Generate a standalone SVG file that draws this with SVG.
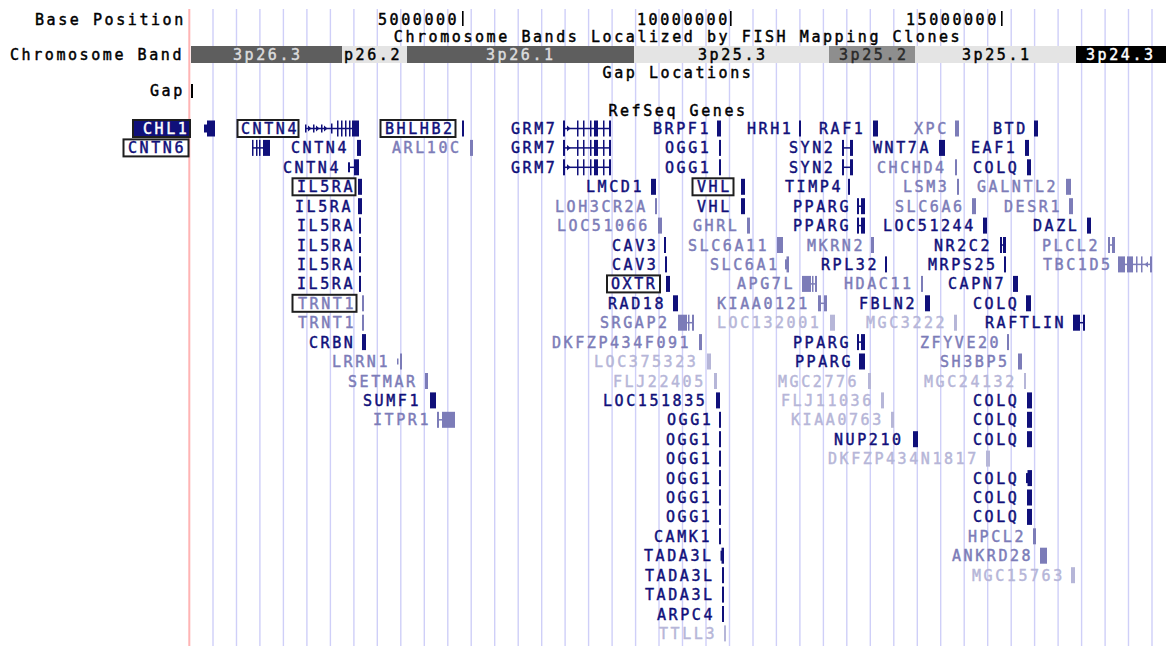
<svg xmlns="http://www.w3.org/2000/svg" width="1166" height="646" viewBox="0 0 1166 646">
<style>
.t{font-family:"DejaVu Sans Mono","Liberation Mono",monospace;font-size:15px;letter-spacing:2.57px;stroke-width:0.45px}
.k{fill:#000}
.k .t,.t.k{stroke:#000}
.n{fill:#10107a}
.n .t{stroke:#10107a}
.l{fill:#7c7cb8}
.l .t{stroke:#7c7cb8}
.v{fill:#b6b6d8}
.v .t{stroke:#b6b6d8}
.bx{fill:#fff;stroke:#1e1e1e;stroke-width:2}
.grid{stroke:#cfcff8;stroke-width:1.4;fill:none}
.mid{text-anchor:middle}
</style>
<rect width="1166" height="646" fill="#fff"/>
<g id="guides">
<path class="grid" d="M213 9V646M236.5 9V646M259.9 9V646M283.4 9V646M306.9 9V646M330.4 9V646M353.9 9V646M377.3 9V646M400.8 9V646M424.3 9V646M447.8 9V646M471.2 9V646M494.7 9V646M518.2 9V646M541.7 9V646M565.1 9V646M588.6 9V646M612.1 9V646M635.6 9V646M659 9V646M682.5 9V646M706 9V646M729.5 9V646M753 9V646M776.4 9V646M799.9 9V646M823.4 9V646M846.8 9V646M870.3 9V646M893.8 9V646M917.3 9V646M940.7 9V646M964.2 9V646M987.7 9V646M1011.2 9V646M1034.6 9V646M1058.1 9V646M1081.6 9V646M1105.1 9V646M1128.5 9V646M1152 9V646"/>
<rect x="188.3" y="9" width="2" height="637" fill="#ffb4b4"/>
</g>
<g id="ruler" class="k">
<text class="t" x="35" y="25">Base Position</text>
<text class="t" x="378" y="25">5000000</text><rect x="462" y="11" width="1.6" height="15"/>
<text class="t" x="637" y="25">10000000</text><rect x="730" y="11" width="1.6" height="15"/>
<text class="t" x="906" y="25">15000000</text><rect x="1001" y="11" width="1.6" height="15"/>
</g>
<g id="bands">
<text class="t k mid" x="678" y="42">Chromosome Bands Localized by FISH Mapping Clones</text>
<text class="t k" x="10" y="60">Chromosome Band</text>
<rect x="191" y="46" width="151" height="17" fill="#5e5e5e"/><text class="t" x="233" y="60" fill="#dcdcdc" stroke="#dcdcdc">3p26.3</text>
<rect x="342" y="46" width="65" height="17" fill="#e4e4e4"/><text class="t" x="344" y="60" fill="#000" stroke="#000">p26.2</text>
<rect x="407" y="46" width="227" height="17" fill="#5e5e5e"/><text class="t" x="486" y="60" fill="#dcdcdc" stroke="#dcdcdc">3p26.1</text>
<rect x="634" y="46" width="195" height="17" fill="#e4e4e4"/><text class="t" x="698" y="60" fill="#000" stroke="#000">3p25.3</text>
<rect x="829" y="46" width="86" height="17" fill="#8e8e8e"/><text class="t" x="839" y="60" fill="#2a2a2a" stroke="#2a2a2a">3p25.2</text>
<rect x="915" y="46" width="161" height="17" fill="#e4e4e4"/><text class="t" x="962" y="60" fill="#000" stroke="#000">3p25.1</text>
<rect x="1076" y="46" width="90" height="17" fill="#000"/><text class="t" x="1086" y="60" fill="#fff" stroke="#fff">3p24.3</text>
</g>
<g id="gaps" class="k">
<text class="t mid" x="678" y="78">Gap Locations</text>
<text class="t" x="150" y="96">Gap</text>
<rect x="191" y="84" width="2" height="14"/>
</g>
<g id="refseq-title"><text class="t k mid" x="678" y="116">RefSeq Genes</text></g>

<g id="row0" transform="translate(0,128.5)">
<g id="chl1" class="n"><rect x="133" y="-8.5" width="57" height="17" fill="#10107a" stroke="#1e1e1e" stroke-width="2"/><text class="t" x="143" y="5.5" fill="#fff" style="stroke:#fff">CHL1</text><rect x="204" y="-4" width="3" height="8"/><rect x="207" y="-8" width="8" height="16"/></g>
<g id="cntn4-1" class="n"><rect class="bx" x="237.5" y="-8.5" width="61" height="17"/><text class="t" x="241" y="5.5">CNTN4</text><rect x="305" y="-0.75" width="53" height="1.5"/><rect x="305" y="-4" width="1.5" height="8"/><rect x="313" y="-4" width="1.5" height="8"/><rect x="321" y="-4" width="1.5" height="8"/><path d="M308-3l3.5 3-3.5 3zM316-3l3.5 3-3.5 3zM324-3l3.5 3-3.5 3z"/><rect x="331" y="-5" width="1.5" height="10"/><rect x="337" y="-8" width="1.5" height="16"/><rect x="341" y="-8" width="1.5" height="16"/><rect x="345" y="-8" width="1.5" height="16"/><rect x="349" y="-8" width="1.5" height="16"/><rect x="352" y="-8" width="7" height="16"/></g>
<g id="bhlhb2" class="n"><rect class="bx" x="380.5" y="-8.5" width="75" height="17"/><text class="t" x="385" y="5.5">BHLHB2</text><rect x="462" y="-8" width="2" height="16"/></g>
<g id="grm7-1" class="n"><text class="t" x="511" y="5.5">GRM7</text><rect x="563" y="-0.75" width="48" height="1.5"/><rect x="563" y="-8" width="2" height="16"/><path d="M567-3l3.5 3-3.5 3z"/><rect x="577" y="-8" width="1.5" height="16"/><rect x="583" y="-8" width="1.5" height="16"/><rect x="590" y="-8" width="1.5" height="16"/><rect x="594" y="-8" width="4" height="16"/><rect x="603" y="-8" width="1.5" height="16"/><rect x="609" y="-8" width="2" height="16"/></g>
<g id="brpf1" class="n"><text class="t" x="653" y="5.5">BRPF1</text><rect x="717" y="-8" width="4" height="16"/></g>
<g id="hrh1" class="n"><text class="t" x="747" y="5.5">HRH1</text><rect x="799" y="-8" width="2" height="16"/></g>
<g id="raf1" class="n"><text class="t" x="819" y="5.5">RAF1</text><rect x="873" y="-8" width="5" height="16"/></g>
<g id="xpc" class="l"><text class="t" x="914" y="5.5">XPC</text><rect x="955" y="-8" width="4" height="16"/></g>
<g id="btd" class="n"><text class="t" x="993" y="5.5">BTD</text><rect x="1034" y="-8" width="4" height="16"/></g>
</g>

<g id="row1" transform="translate(0,147.9)">
<g id="cntn6" class="n"><rect class="bx" x="123.5" y="-8.5" width="65" height="17"/><text class="t" x="128" y="5.5">CNTN6</text><rect x="252" y="-0.75" width="18" height="1.5"/><rect x="252" y="-8" width="1.5" height="16"/><rect x="256" y="-8" width="1.5" height="16"/><rect x="259" y="-8" width="1.5" height="16"/><rect x="263" y="-8" width="7" height="16"/></g>
<g id="cntn4-2" class="n"><text class="t" x="291" y="5.5">CNTN4</text><rect x="357" y="-8" width="4" height="16"/></g>
<g id="arl10c" class="l"><text class="t" x="392" y="5.5">ARL10C</text><rect x="470" y="-8" width="3" height="16"/></g>
<g id="grm7-2" class="n"><text class="t" x="511" y="5.5">GRM7</text><rect x="563" y="-0.75" width="48" height="1.5"/><rect x="563" y="-8" width="2" height="16"/><path d="M567-3l3.5 3-3.5 3z"/><rect x="577" y="-8" width="1.5" height="16"/><rect x="583" y="-8" width="1.5" height="16"/><rect x="590" y="-8" width="1.5" height="16"/><rect x="594" y="-8" width="4" height="16"/><rect x="603" y="-8" width="1.5" height="16"/><rect x="609" y="-8" width="2" height="16"/></g>
<g id="ogg1-1" class="n"><text class="t" x="665" y="5.5">OGG1</text><rect x="719" y="-8" width="2" height="16"/></g>
<g id="syn2-1" class="n"><text class="t" x="789" y="5.5">SYN2</text><rect x="842" y="-8" width="2" height="16"/><rect x="842" y="-0.75" width="10" height="1.5"/><rect x="850" y="-8" width="3" height="16"/></g>
<g id="wnt7a" class="n"><text class="t" x="873" y="5.5">WNT7A</text><rect x="939" y="-8" width="6" height="16"/></g>
<g id="eaf1" class="n"><text class="t" x="971" y="5.5">EAF1</text><rect x="1025" y="-8" width="4" height="16"/></g>
</g>

<g id="row2" transform="translate(0,167.3)">
<g id="cntn4-3" class="n"><text class="t" x="283" y="5.5">CNTN4</text><rect x="348" y="-5" width="2" height="10"/><rect x="348" y="-0.75" width="10" height="1.5"/><rect x="354" y="-8" width="5" height="16"/></g>
<g id="grm7-3" class="n"><text class="t" x="511" y="5.5">GRM7</text><rect x="563" y="-0.75" width="48" height="1.5"/><rect x="563" y="-8" width="2" height="16"/><path d="M567-3l3.5 3-3.5 3z"/><rect x="577" y="-8" width="1.5" height="16"/><rect x="583" y="-8" width="1.5" height="16"/><rect x="590" y="-8" width="1.5" height="16"/><rect x="594" y="-8" width="4" height="16"/><rect x="603" y="-8" width="1.5" height="16"/><rect x="609" y="-8" width="2" height="16"/></g>
<g id="ogg1-2" class="n"><text class="t" x="665" y="5.5">OGG1</text><rect x="719" y="-8" width="2" height="16"/></g>
<g id="syn2-2" class="n"><text class="t" x="789" y="5.5">SYN2</text><rect x="842" y="-8" width="2" height="16"/><rect x="842" y="-0.75" width="10" height="1.5"/><rect x="850" y="-8" width="3" height="16"/></g>
<g id="chchd4" class="l"><text class="t" x="877" y="5.5">CHCHD4</text><rect x="955" y="-8" width="2" height="16"/></g>
<g id="colq-1" class="n"><text class="t" x="973" y="5.5">COLQ</text><rect x="1027" y="-8" width="4" height="16"/></g>
</g>

<g id="row3" transform="translate(0,186.8)">
<g id="il5ra-1" class="n"><rect class="bx" x="292.5" y="-8.5" width="63" height="17"/><text class="t" x="297" y="5.5">IL5RA</text><rect x="358" y="-8" width="4" height="16"/></g>
<g id="lmcd1" class="n"><text class="t" x="586" y="5.5">LMCD1</text><rect x="651" y="-8" width="5" height="16"/></g>
<g id="vhl-1" class="n"><rect class="bx" x="692.5" y="-8.5" width="41" height="17"/><text class="t" x="697" y="5.5">VHL</text><rect x="741" y="-8" width="4" height="16"/></g>
<g id="timp4" class="n"><text class="t" x="785" y="5.5">TIMP4</text><rect x="848" y="-8" width="2" height="16"/></g>
<g id="lsm3" class="l"><text class="t" x="903" y="5.5">LSM3</text><rect x="957" y="-8" width="2" height="16"/></g>
<g id="galntl2" class="l"><text class="t" x="977" y="5.5">GALNTL2</text><rect x="1066" y="-8" width="5" height="16"/></g>
</g>

<g id="row4" transform="translate(0,206.2)">
<g id="il5ra-2" class="n"><text class="t" x="295" y="5.5">IL5RA</text><rect x="358" y="-8" width="4" height="16"/></g>
<g id="loh3cr2a" class="l"><text class="t" x="555" y="5.5">LOH3CR2A</text><rect x="655" y="-8" width="2" height="16"/></g>
<g id="vhl-2" class="n"><text class="t" x="697" y="5.5">VHL</text><rect x="741" y="-8" width="4" height="16"/></g>
<g id="pparg-1" class="n"><text class="t" x="793" y="5.5">PPARG</text><rect x="857" y="-8" width="2" height="16"/><rect x="857" y="-0.75" width="5" height="1.5"/><rect x="861" y="-8" width="4" height="16"/></g>
<g id="slc6a6" class="l"><text class="t" x="895" y="5.5">SLC6A6</text><rect x="972" y="-8" width="4" height="16"/></g>
<g id="desr1" class="l"><text class="t" x="1004" y="5.5">DESR1</text><rect x="1069" y="-8" width="4" height="16"/></g>
</g>

<g id="row5" transform="translate(0,225.6)">
<g id="il5ra-3" class="n"><text class="t" x="297" y="5.5">IL5RA</text><rect x="359" y="-8" width="2" height="16"/></g>
<g id="loc51066" class="l"><text class="t" x="557" y="5.5">LOC51066</text><rect x="658" y="-8" width="4" height="16"/></g>
<g id="ghrl" class="l"><text class="t" x="693" y="5.5">GHRL</text><rect x="747" y="-8" width="3" height="16"/></g>
<g id="pparg-2" class="n"><text class="t" x="793" y="5.5">PPARG</text><rect x="857" y="-8" width="2" height="16"/><rect x="857" y="-0.75" width="5" height="1.5"/><rect x="861" y="-8" width="4" height="16"/></g>
<g id="loc51244" class="n"><text class="t" x="883" y="5.5">LOC51244</text><rect x="983" y="-8" width="4" height="16"/></g>
<g id="dazl" class="n"><text class="t" x="1033" y="5.5">DAZL</text><rect x="1087" y="-8" width="4" height="16"/></g>
</g>

<g id="row6" transform="translate(0,245)">
<g id="il5ra-4" class="n"><text class="t" x="297" y="5.5">IL5RA</text><rect x="359" y="-8" width="2" height="16"/></g>
<g id="cav3-1" class="n"><text class="t" x="612" y="5.5">CAV3</text><rect x="664" y="-8" width="2" height="16"/></g>
<g id="slc6a11" class="l"><text class="t" x="688" y="5.5">SLC6A11</text><rect x="777" y="-8" width="6" height="16"/></g>
<g id="mkrn2" class="l"><text class="t" x="807" y="5.5">MKRN2</text><rect x="871" y="-8" width="3" height="16"/></g>
<g id="nr2c2" class="n"><text class="t" x="934" y="5.5">NR2C2</text><rect x="1000" y="-8" width="2" height="16"/><rect x="1000" y="-0.75" width="5" height="1.5"/><rect x="1003" y="-8" width="3" height="16"/></g>
<g id="plcl2" class="l"><text class="t" x="1042" y="5.5">PLCL2</text><rect x="1108" y="-8" width="2" height="16"/><rect x="1108" y="-0.75" width="6" height="1.5"/><rect x="1112" y="-8" width="3" height="16"/></g>
</g>

<g id="row7" transform="translate(0,264.4)">
<g id="il5ra-5" class="n"><text class="t" x="297" y="5.5">IL5RA</text><rect x="359" y="-8" width="2" height="16"/></g>
<g id="cav3-2" class="n"><text class="t" x="612" y="5.5">CAV3</text><rect x="665" y="-8" width="2" height="16"/></g>
<g id="slc6a1" class="l"><text class="t" x="710" y="5.5">SLC6A1</text><rect x="785" y="-5" width="2" height="10"/><rect x="786.5" y="-8" width="2.5" height="16"/></g>
<g id="rpl32" class="n"><text class="t" x="821" y="5.5">RPL32</text><rect x="885" y="-8" width="2" height="16"/></g>
<g id="mrps25" class="n"><text class="t" x="928" y="5.5">MRPS25</text><rect x="1004" y="-8" width="2" height="16"/></g>
<g id="tbc1d5" class="l"><text class="t" x="1043" y="5.5">TBC1D5</text><rect x="1118" y="-0.75" width="34" height="1.5"/><rect x="1118" y="-8" width="7" height="16"/><rect x="1127" y="-8" width="6" height="16"/><rect x="1136" y="-8" width="1.5" height="16"/><rect x="1141" y="-8" width="1.5" height="16"/><path d="M1148-3l-3.5 3 3.5 3z"/><rect x="1150" y="-8" width="2" height="16"/></g>
</g>

<g id="row8" transform="translate(0,283.9)">
<g id="il5ra-6" class="n"><text class="t" x="297" y="5.5">IL5RA</text><rect x="359" y="-8" width="2" height="16"/></g>
<g id="oxtr" class="n"><rect class="bx" x="607" y="-8.5" width="53" height="17"/><text class="t" x="611" y="5.5">OXTR</text><rect x="666" y="-8" width="4" height="16"/></g>
<g id="apg7l" class="l"><text class="t" x="737" y="5.5">APG7L</text><rect x="802" y="-8" width="9" height="16"/><rect x="811" y="-0.75" width="6" height="1.5"/><rect x="812" y="-8" width="1.5" height="16"/><rect x="815" y="-8" width="2" height="16"/></g>
<g id="hdac11" class="l"><text class="t" x="844" y="5.5">HDAC11</text><rect x="921" y="-8" width="2" height="16"/></g>
<g id="capn7" class="n"><text class="t" x="948" y="5.5">CAPN7</text><rect x="1013" y="-8" width="5" height="16"/></g>
</g>

<g id="row9" transform="translate(0,303.3)">
<g id="trnt1-1" class="l"><rect class="bx" x="292.5" y="-8.5" width="64" height="17"/><text class="t" x="298" y="5.5">TRNT1</text><rect x="362" y="-8" width="2" height="16"/></g>
<g id="rad18" class="n"><text class="t" x="608" y="5.5">RAD18</text><rect x="673" y="-8" width="5" height="16"/></g>
<g id="kiaa0121" class="l"><text class="t" x="717" y="5.5">KIAA0121</text><rect x="818" y="-8" width="3" height="16"/><rect x="818" y="-0.75" width="9" height="1.5"/><rect x="824" y="-8" width="3" height="16"/></g>
<g id="fbln2" class="n"><text class="t" x="859" y="5.5">FBLN2</text><rect x="925" y="-8" width="5" height="16"/></g>
<g id="colq-2" class="n"><text class="t" x="973" y="5.5">COLQ</text><rect x="1026" y="-8" width="5" height="16"/></g>
</g>

<g id="row10" transform="translate(0,322.7)">
<g id="trnt1-2" class="l"><text class="t" x="298" y="5.5">TRNT1</text><rect x="362" y="-8" width="2" height="16"/></g>
<g id="srgap2" class="l"><text class="t" x="600" y="5.5">SRGAP2</text><rect x="678" y="-8" width="9" height="16"/><rect x="687" y="-0.75" width="7" height="1.5"/><rect x="688" y="-8" width="1.5" height="16"/><rect x="692" y="-8" width="2" height="16"/></g>
<g id="loc132001" class="v"><text class="t" x="717" y="5.5">LOC132001</text><rect x="830" y="-8" width="5" height="16"/></g>
<g id="mgc3222" class="v"><text class="t" x="866" y="5.5">MGC3222</text><rect x="954" y="-8" width="3" height="16"/></g>
<g id="raftlin" class="n"><text class="t" x="985" y="5.5">RAFTLIN</text><rect x="1073" y="-8" width="7" height="16"/><rect x="1080" y="-0.75" width="5" height="1.5"/><rect x="1083" y="-8" width="2" height="16"/></g>
</g>

<g id="row11" transform="translate(0,342.1)">
<g id="crbn" class="n"><text class="t" x="309" y="5.5">CRBN</text><rect x="362" y="-8" width="4" height="16"/></g>
<g id="dkfzp434f091" class="l"><text class="t" x="552" y="5.5">DKFZP434F091</text><rect x="699" y="-8" width="3" height="16"/></g>
<g id="pparg-3" class="n"><text class="t" x="793" y="5.5">PPARG</text><rect x="857" y="-8" width="2" height="16"/><rect x="857" y="-0.75" width="5" height="1.5"/><rect x="861" y="-8" width="4" height="16"/></g>
<g id="zfyve20" class="l"><text class="t" x="920" y="5.5">ZFYVE20</text><rect x="1007" y="-8" width="2" height="16"/></g>
</g>

<g id="row12" transform="translate(0,361.5)">
<g id="lrrn1" class="l"><text class="t" x="332" y="5.5">LRRN1</text><rect x="397" y="-3" width="1.5" height="6"/><rect x="400" y="-8" width="2" height="16"/></g>
<g id="loc375323" class="v"><text class="t" x="594" y="5.5">LOC375323</text><rect x="707" y="-8" width="4" height="16"/></g>
<g id="pparg-4" class="n"><text class="t" x="795" y="5.5">PPARG</text><rect x="859" y="-8" width="6" height="16"/></g>
<g id="sh3bp5" class="l"><text class="t" x="940" y="5.5">SH3BP5</text><rect x="1018" y="-8" width="4" height="16"/></g>
</g>

<g id="row13" transform="translate(0,381)">
<g id="setmar" class="l"><text class="t" x="348" y="5.5">SETMAR</text><rect x="425" y="-8" width="3" height="16"/></g>
<g id="flj22405" class="v"><text class="t" x="613" y="5.5">FLJ22405</text><rect x="714" y="-8" width="3" height="16"/></g>
<g id="mgc2776" class="v"><text class="t" x="778" y="5.5">MGC2776</text><rect x="868" y="-8" width="3" height="16"/></g>
<g id="mgc24132" class="v"><text class="t" x="924" y="5.5">MGC24132</text><rect x="1024" y="-8" width="2" height="16"/></g>
</g>

<g id="row14" transform="translate(0,400.4)">
<g id="sumf1" class="n"><text class="t" x="363" y="5.5">SUMF1</text><rect x="430" y="-8" width="6" height="16"/></g>
<g id="loc151835" class="n"><text class="t" x="603" y="5.5">LOC151835</text><rect x="716" y="-8" width="4" height="16"/></g>
<g id="flj11036" class="v"><text class="t" x="781" y="5.5">FLJ11036</text><rect x="881" y="-8" width="3" height="16"/></g>
<g id="colq-3" class="n"><text class="t" x="973" y="5.5">COLQ</text><rect x="1027" y="-8" width="5" height="16"/></g>
</g>

<g id="row15" transform="translate(0,419.8)">
<g id="itpr1" class="l"><text class="t" x="373" y="5.5">ITPR1</text><rect x="437" y="-8" width="2" height="16"/><rect x="437" y="-0.75" width="6" height="1.5"/><rect x="442" y="-8" width="13" height="16"/></g>
<g id="ogg1-3" class="n"><text class="t" x="667" y="5.5">OGG1</text><rect x="719" y="-8" width="2" height="16"/></g>
<g id="kiaa0763" class="v"><text class="t" x="791" y="5.5">KIAA0763</text><rect x="891" y="-8" width="3" height="16"/></g>
<g id="colq-4" class="n"><text class="t" x="973" y="5.5">COLQ</text><rect x="1027" y="-8" width="5" height="16"/></g>
</g>

<g id="row16" transform="translate(0,439.2)">
<g id="ogg1-4" class="n"><text class="t" x="666" y="5.5">OGG1</text><rect x="719" y="-8" width="2" height="16"/></g>
<g id="nup210" class="n"><text class="t" x="834" y="5.5">NUP210</text><rect x="913" y="-8" width="5" height="16"/></g>
<g id="colq-5" class="n"><text class="t" x="973" y="5.5">COLQ</text><rect x="1027" y="-8" width="5" height="16"/></g>
</g>

<g id="row17" transform="translate(0,458.6)">
<g id="ogg1-5" class="n"><text class="t" x="666" y="5.5">OGG1</text><rect x="719" y="-8" width="2" height="16"/></g>
<g id="dkfzp434n1817" class="v"><text class="t" x="828" y="5.5">DKFZP434N1817</text><rect x="986" y="-8" width="4" height="16"/></g>
</g>

<g id="row18" transform="translate(0,478.1)">
<g id="ogg1-6" class="n"><text class="t" x="666" y="5.5">OGG1</text><rect x="719" y="-8" width="2" height="16"/></g>
<g id="colq-6" class="n"><text class="t" x="973" y="5.5">COLQ</text><rect x="1026" y="-5" width="2" height="10"/><rect x="1027.5" y="-8" width="4.5" height="16"/></g>
</g>

<g id="row19" transform="translate(0,497.5)">
<g id="ogg1-7" class="n"><text class="t" x="666" y="5.5">OGG1</text><rect x="719" y="-8" width="2" height="16"/></g>
<g id="colq-7" class="n"><text class="t" x="973" y="5.5">COLQ</text><rect x="1027" y="-8" width="5" height="16"/></g>
</g>

<g id="row20" transform="translate(0,516.9)">
<g id="ogg1-8" class="n"><text class="t" x="666" y="5.5">OGG1</text><rect x="719" y="-8" width="2" height="16"/></g>
<g id="colq-8" class="n"><text class="t" x="973" y="5.5">COLQ</text><rect x="1027" y="-8" width="5" height="16"/></g>
</g>

<g id="row21" transform="translate(0,536.3)">
<g id="camk1" class="n"><text class="t" x="654" y="5.5">CAMK1</text><rect x="719" y="-8" width="2" height="16"/></g>
<g id="hpcl2" class="l"><text class="t" x="968" y="5.5">HPCL2</text><rect x="1033" y="-8" width="3" height="16"/></g>
</g>

<g id="row22" transform="translate(0,555.7)">
<g id="tada3l-1" class="n"><text class="t" x="644" y="5.5">TADA3L</text><rect x="720.5" y="-5" width="1.5" height="10"/><rect x="721.5" y="-8" width="2.5" height="16"/></g>
<g id="ankrd28" class="l"><text class="t" x="952" y="5.5">ANKRD28</text><rect x="1040" y="-8" width="7" height="16"/></g>
</g>

<g id="row23" transform="translate(0,575.2)">
<g id="tada3l-2" class="n"><text class="t" x="645" y="5.5">TADA3L</text><rect x="722" y="-8" width="2" height="16"/></g>
<g id="mgc15763" class="v"><text class="t" x="972" y="5.5">MGC15763</text><rect x="1071" y="-8" width="4" height="16"/></g>
</g>

<g id="row24" transform="translate(0,594.6)">
<g id="tada3l-3" class="n"><text class="t" x="645" y="5.5">TADA3L</text><rect x="722" y="-8" width="2" height="16"/></g>
</g>

<g id="row25" transform="translate(0,614)">
<g id="arpc4" class="n"><text class="t" x="657" y="5.5">ARPC4</text><rect x="722" y="-8" width="2" height="16"/></g>
</g>

<g id="row26" transform="translate(0,633.4)">
<g id="ttll3" class="v"><text class="t" x="659" y="5.5">TTLL3</text><rect x="724" y="-8" width="2" height="16"/></g>
</g>
</svg>
